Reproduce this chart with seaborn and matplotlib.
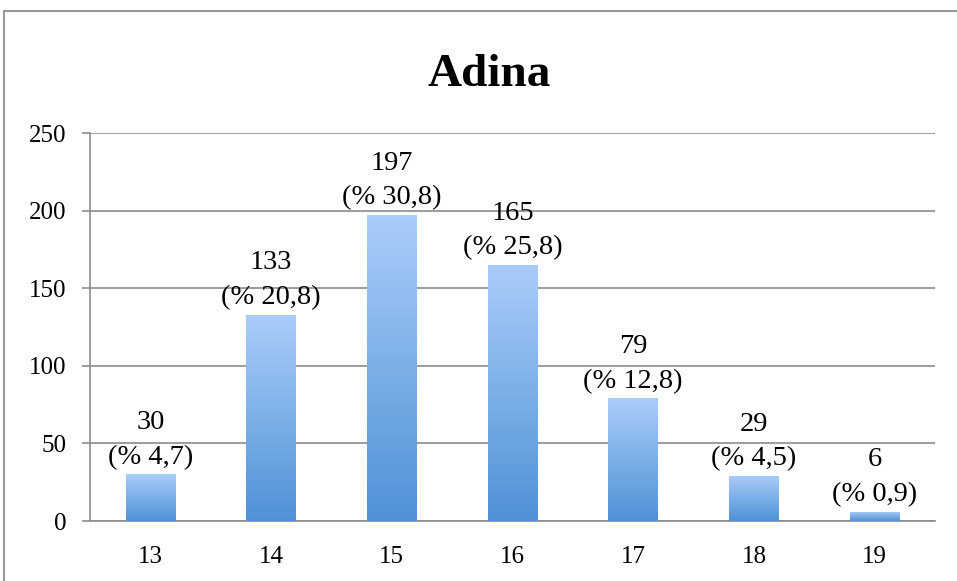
import numpy as np
import pandas as pd
import matplotlib
matplotlib.use("Agg")
import matplotlib.pyplot as plt
import seaborn as sns
from matplotlib.colors import LinearSegmentedColormap
from matplotlib.lines import Line2D

# datos
edades = ["13", "14", "15", "16", "17", "18", "19"]
cantidad = [30, 133, 197, 165, 79, 29, 6]
porcentaje = ["4,7", "20,8", "30,8", "25,8", "12,8", "4,5", "0,9"]
y_ticks = [0, 50, 100, 150, 200, 250]

sns.set_style("white")
plt.rcParams["font.family"] = ["Liberation Serif", "DejaVu Serif"]
plt.rcParams["text.color"] = "black"
plt.rcParams["xtick.color"] = "black"
plt.rcParams["ytick.color"] = "black"

df = pd.DataFrame({"edad": edades, "cantidad": cantidad})

fig = plt.figure(figsize=(9.57, 5.81), dpi=100)
ax = fig.add_axes([90 / 957, 1 - 521 / 581, 845 / 957, 388 / 581])

sns.barplot(data=df, x="edad", y="cantidad", ax=ax, width=0.41,
            color="#7fb0ea", saturation=1, zorder=3)

# degradado en cada barra
cmap = LinearSegmentedColormap.from_list("azul", ["#4f92d6", "#aacdfa"])
grad = np.linspace(0, 1, 256).reshape(-1, 1)
for p in ax.patches:
    x0, y0 = p.get_x(), p.get_y()
    w, h = p.get_width(), p.get_height()
    im = ax.imshow(grad, cmap=cmap, aspect="auto", origin="lower",
                   extent=[x0, x0 + w, y0, y0 + h], zorder=3)
    im.set_clip_path(p)
    p.set_facecolor("none")
    p.set_edgecolor("none")

for i, (v, pc) in enumerate(zip(cantidad, porcentaje)):
    ax.text(i, v + 3, f"{v}\n(% {pc})", ha="center", va="bottom",
            fontsize=20.5, linespacing=1.5, zorder=4)

ax.set_xlim(-0.5, len(edades) - 0.5)
ax.set_ylim(0, 250)
ax.set_yticks(y_ticks)
ax.set_yticklabels([str(t) for t in y_ticks], fontsize=18)
ax.set_xlabel("")
ax.set_ylabel("")
fig.text(489 / 957, 1 - 75 / 581, "Adina", fontsize=34, fontweight="bold",
         ha="center", va="center")

gris = "#8c8c8c"
ax.yaxis.grid(True, color=gris, linewidth=1.2, zorder=0)
ax.set_axisbelow(True)
for s in ["top", "right"]:
    ax.spines[s].set_visible(False)
ax.spines["left"].set_color(gris)
ax.spines["bottom"].set_color(gris)
ax.spines["left"].set_linewidth(1.2)
ax.spines["bottom"].set_linewidth(1.2)

# marcas del eje x entre categorias
ax.set_xticks(np.arange(len(edades)))
ax.set_xticklabels(edades, fontsize=18)
ax.set_xticks(np.arange(-0.5, len(edades)), minor=True)
ax.tick_params(axis="x", which="major", length=0, pad=18)
ax.tick_params(axis="x", which="minor", length=6, width=1.2, color=gris, direction="out")
ax.tick_params(axis="y", length=6, width=1.2, color=gris, labelcolor="black",
               direction="out", pad=11, left=True)

# marco exterior
fig.add_artist(Line2D([4 / 957, 4 / 957], [0, 1 - 11 / 581], color="#999999", linewidth=1.5))
fig.add_artist(Line2D([4 / 957, 1], [1 - 11 / 581, 1 - 11 / 581], color="#999999", linewidth=1.5))

fig.savefig("out.png", dpi=100)
